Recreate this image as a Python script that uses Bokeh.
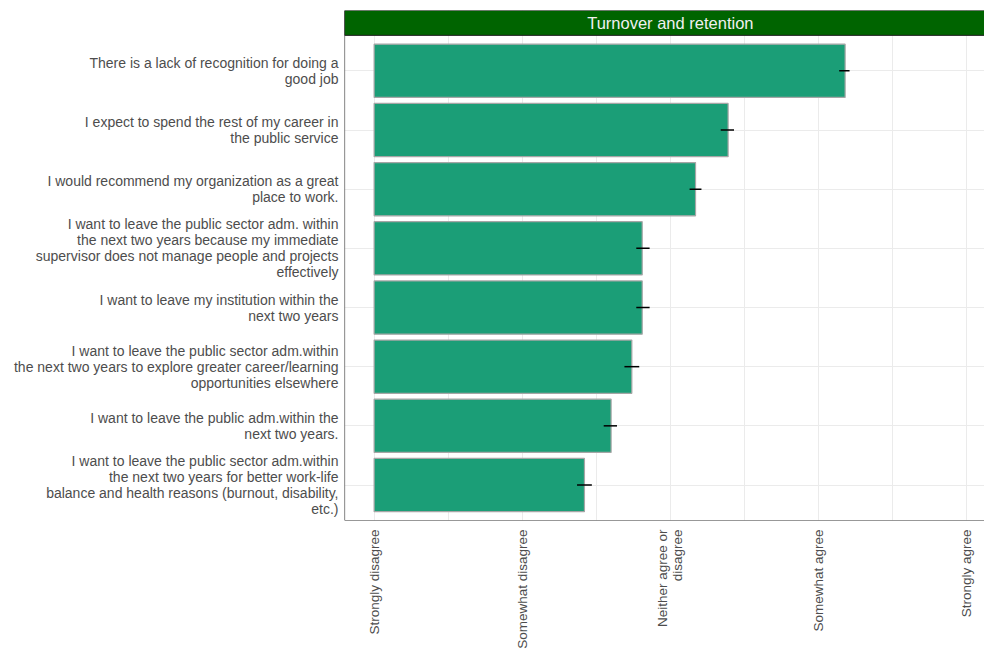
from bokeh.plotting import figure
from bokeh.models import Range1d, FixedTicker, ColumnDataSource, Span
from bokeh.core.properties import value
from bokeh.embed import file_html
from bokeh.resources import INLINE

# ---- data (top item first) ----
items = [
    "There is a lack of recognition for doing a\ngood job",
    "I expect to spend the rest of my career in\nthe public service",
    "I would recommend my organization as a great\nplace to work.",
    "I want to leave the public sector adm. within\nthe next two years because my immediate\nsupervisor does not manage people and projects\neffectively",
    "I want to leave my institution within the\nnext two years",
    "I want to leave the public sector adm.within\nthe next two years to explore greater career/learning\nopportunities elsewhere",
    "I want to leave the public adm.within the\nnext two years.",
    "I want to leave the public sector adm.within\nthe next two years for better work-life\nbalance and health reasons (burnout, disability,\netc.)",
]
means = [4.18, 3.39, 3.17, 2.81, 2.81, 2.74, 2.60, 2.42]
ci_low = [4.14, 3.34, 3.13, 2.77, 2.77, 2.69, 2.55, 2.37]
ci_high = [4.21, 3.43, 3.21, 2.86, 2.86, 2.79, 2.64, 2.47]
scale_ticks = [1, 2, 3, 4, 5]
scale_labels = ["Strongly disagree", "Somewhat disagree", "Neither agree or\ndisagree",
                "Somewhat agree", "Strongly agree"]
panel_title = "Turnover and retention"
base = 1

n = len(items)
ypos = [n - i for i in range(n)]

FONT = "Liberation Sans"
TXT = "#4d4d4d"
X0, X1 = 0.8, 5.121
Y0, Y1 = 0.4, 9.02

p = figure(width=984, height=651, output_backend="svg", toolbar_location=None,
           x_range=Range1d(X0, X1), y_range=Range1d(Y0, Y1),
           min_border_left=344, min_border_right=0, min_border_top=10, min_border_bottom=130)
p.background_fill_color = "white"
p.border_fill_color = "white"
p.outline_line_color = None

src = ColumnDataSource(dict(y=ypos, m=means, lo=ci_low, hi=ci_high,
                            left=[base] * n,
                            top=[y + 0.45 for y in ypos], bottom=[y - 0.45 for y in ypos]))
p.quad(left="left", right="m", top="top", bottom="bottom", source=src,
       fill_color="#1b9e77", line_color="#a6a6a6", line_width=1.2)
p.segment(x0="lo", x1="hi", y0="y", y1="y", source=src, line_color="black", line_width=1.5)

# facet strip
p.quad(left=[X0], right=[5.2], bottom=[8.6], top=[Y1],
       fill_color="#006400", line_color="#1a1a1a", line_width=1)
p.text(x=[3.0], y=[8.81], text=[panel_title], text_align="center", text_baseline="middle",
       text_font=value(FONT), text_font_size="16.5px", text_color="#f0f0f0")

# panel border (left and bottom; right edge lies beyond the window)
p.add_layout(Span(location=X0, dimension="height", line_color="#333333", line_width=1.2))
p.add_layout(Span(location=Y0, dimension="width", line_color="#333333", line_width=1.2))

# axes
p.xaxis.ticker = FixedTicker(ticks=scale_ticks, minor_ticks=[1.5, 2.5, 3.5, 4.5])
p.xaxis.major_label_overrides = {t: l for t, l in zip(scale_ticks, scale_labels)}
p.xaxis.major_label_orientation = 1.5707963
p.yaxis.ticker = FixedTicker(ticks=ypos)
p.yaxis.major_label_overrides = {y: l for y, l in zip(ypos, items)}
for ax in (p.xaxis[0], p.yaxis[0]):
    ax.axis_line_color = None
    ax.major_tick_line_color = None
    ax.minor_tick_line_color = None
    ax.major_tick_out = 0
    ax.major_tick_in = 0
    ax.major_label_text_font = FONT
    ax.major_label_text_color = TXT
    ax.major_label_text_line_height = 1.0
p.yaxis.major_label_text_font_size = "14px"
p.yaxis.major_label_standoff = 6
p.xaxis.major_label_text_font_size = "13.5px"
p.xaxis.major_label_standoff = 5

p.xgrid.grid_line_color = "#ebebeb"
p.xgrid.minor_grid_line_color = "#ebebeb"
p.ygrid.grid_line_color = "#ebebeb"

open("out.html", "w").write(file_html(p, INLINE))
